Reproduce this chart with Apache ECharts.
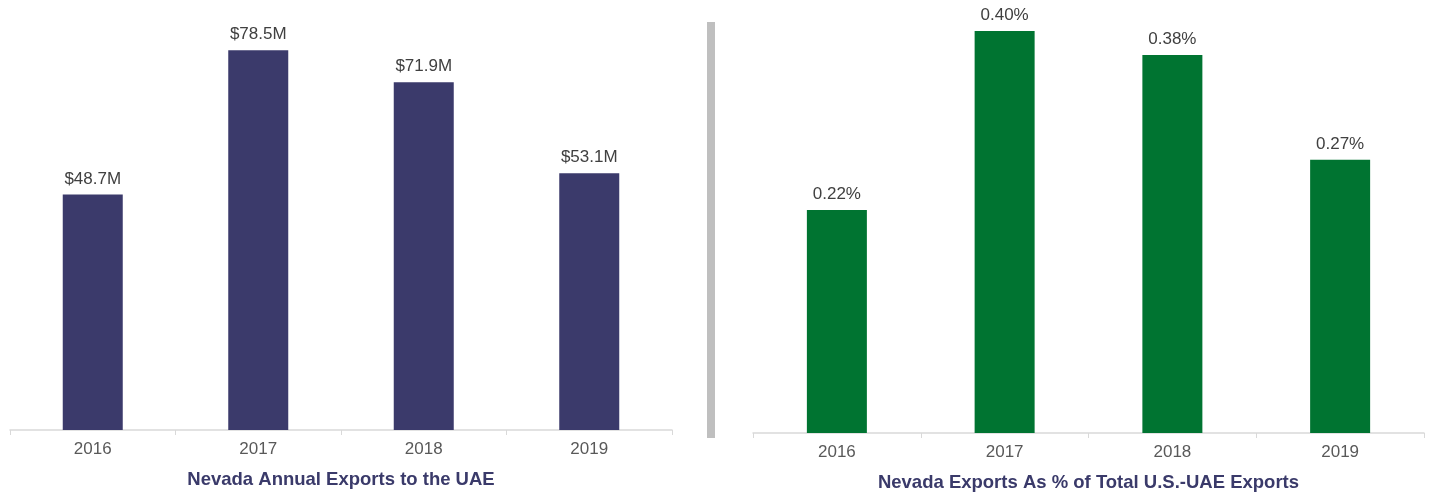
<!DOCTYPE html>
<html style="height: 100%;">
<head>
    <meta charset="UTF-8">
    <title>Nevada exports to the UAE</title>
    <script src="https://cdn.jsdelivr.net/npm/echarts@6/dist/echarts.min.js"></script>
</head>
<body style="height: 100%;margin: 0;background:#fff;">
	<div id="container" style="width:1429px;height:493px;"></div>
    <script type="text/javascript">
      	// data
      	var years = ['2016', '2017', '2018', '2019'];
      	var exportsMillions = [48.7, 78.5, 71.9, 53.1];
      	var shareOfUsUae = [0.222, 0.400, 0.376, 0.272];
      	var leftTitle = 'Nevada Annual Exports to the UAE';
      	var rightTitle = 'Nevada Exports As % of Total U.S.-UAE Exports';

      	var myChart = echarts.init(document.getElementById('container'));
      	var font = 'Liberation Sans, Arial, sans-serif';

      	function xAxisFor(idx, name) {
      		return {
      			gridIndex: idx,
      			type: 'category',
      			data: years,
      			name: name,
      			nameLocation: 'middle',
      			nameGap: 40,
      			nameTextStyle: { color: '#3a3a6a', fontSize: 18.5, fontWeight: 'bold', fontFamily: font },
      			axisLine: { lineStyle: { color: '#d9d9d9', width: 1.5 } },
      			axisTick: { show: true, length: 5, lineStyle: { color: '#d9d9d9' } },
      			axisLabel: { color: '#595959', fontSize: 17, margin: 11, fontFamily: font }
      		};
      	}

		var option = {
			animation: false,
			grid: [
				{ left: 10, right: 757, top: 43, bottom: 63, outerBoundsMode: 'none' },
				{ left: 753, right: 5, top: 31, bottom: 60, outerBoundsMode: 'none' }
			],
			xAxis: [ xAxisFor(0, leftTitle), xAxisFor(1, rightTitle) ],
			yAxis: [
				{ gridIndex: 0, type: 'value', min: 0, max: 80, show: false },
				{ gridIndex: 1, type: 'value', min: 0, max: 0.4, show: false }
			],
			graphic: [{
				type: 'rect',
				shape: { x: 707, y: 22, width: 8, height: 416 },
				style: { fill: '#bfbfbf' }
			}],
			series: [
				{
					type: 'bar',
					xAxisIndex: 0, yAxisIndex: 0,
					barWidth: 60,
					data: exportsMillions,
					itemStyle: { color: '#3b3a6b' },
					label: {
						show: true, position: 'top', distance: 7,
						color: '#404040', fontSize: 17, fontFamily: font,
						formatter: function (p) { return '$' + p.value.toFixed(1) + 'M'; }
					}
				},
				{
					type: 'bar',
					xAxisIndex: 1, yAxisIndex: 1,
					barWidth: 60,
					data: shareOfUsUae,
					itemStyle: { color: '#007431' },
					label: {
						show: true, position: 'top', distance: 7,
						color: '#404040', fontSize: 17, fontFamily: font,
						formatter: function (p) { return p.value.toFixed(2) + '%'; }
					}
				}
			]
		};
		myChart.setOption(option, true);
    </script>
</body>
</html>
